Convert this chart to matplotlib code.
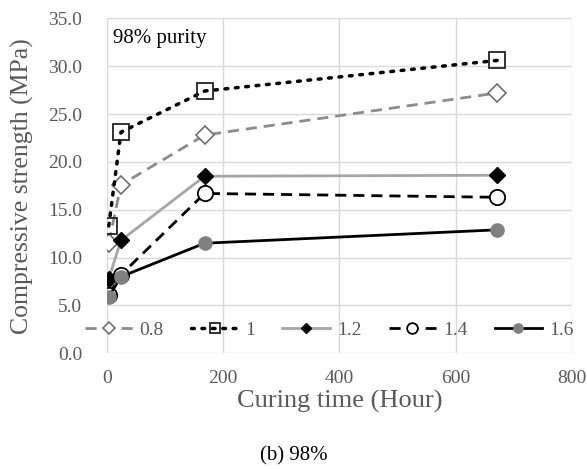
import matplotlib
matplotlib.use("Agg")
import matplotlib.pyplot as plt

hours = [3, 24, 168, 672]
labels = ["0.8", "1", "1.2", "1.4", "1.6"]
s08 = [11.5, 17.6, 22.8, 27.2]
s10 = [13.3, 23.1, 27.4, 30.6]
s12 = [7.8, 11.8, 18.5, 18.6]
s14 = [6.1, 8.2, 16.7, 16.3]
s16 = [5.9, 8.0, 11.5, 12.9]
xticks = [0, 200, 400, 600, 800]
yticks = [0, 5, 10, 15, 20, 25, 30, 35]

plt.rcParams['font.family'] = ['Liberation Serif', 'DejaVu Serif']

fig = plt.figure(figsize=(5.87, 4.69), dpi=100)
ax = fig.add_axes([0.1823, 0.2467, 0.7917, 0.7143])

gray_txt = '#595959'
ax.plot(hours, s08, color='#8c8c8c', ls=(0, (4, 2.5)), lw=2, marker='D', ms=9,
        mfc='white', mec='#707070', mew=1.2, label=labels[0], zorder=3)
ax.plot(hours, s10, color='black', ls=(0, (0.8, 2.2)), lw=2.5, dash_capstyle='round', marker='s', ms=11,
        mfc='none', mec='#222222', mew=1.3, label=labels[1], zorder=4)
ax.plot(hours, s12, color='#a6a6a6', ls='-', lw=2, marker='D', ms=8,
        mfc='black', mec='black', label=labels[2], zorder=3)
ax.plot(hours, s14, color='black', ls=(0, (4, 2.5)), lw=2, marker='o', ms=11,
        mfc='white', mec='black', mew=1.3, label=labels[3], zorder=3)
ax.plot(hours, s16, color='black', ls='-', lw=2, marker='o', ms=9.5,
        mfc='#808080', mec='#808080', label=labels[4], zorder=3)

ax.set_xlim(0, 800)
ax.set_ylim(0, 35)
ax.set_xticks(xticks)
ax.set_yticks(yticks)
ax.set_yticklabels([f"{v:.1f}" for v in yticks])
for sp in ax.spines.values():
    sp.set_visible(False)
ax.grid(True, color='#d9d9d9', lw=1)
ax.set_axisbelow(True)
ax.tick_params(length=0, labelsize=14, labelcolor=gray_txt)
ax.tick_params(axis='y', pad=18)
ax.tick_params(axis='x', pad=12)
ax.set_xlabel("Curing time (Hour)", fontsize=19, color=gray_txt, labelpad=2)
ax.set_ylabel("Compressive strength (MPa)", fontsize=18.5, color=gray_txt, labelpad=10)

ax.text(0.012, 0.94, "98% purity", transform=ax.transAxes, fontsize=15,
        color='black', ha='left', va='center')

leg = ax.legend(loc='center', bbox_to_anchor=(0.478, 2.4 / 35), ncol=5, frameon=False,
                fontsize=14, handlelength=2.45, columnspacing=1.4, handletextpad=0.35,
                borderaxespad=0, markerscale=0.7)
for t in leg.get_texts():
    t.set_color(gray_txt)

fig.text(0.5, 0.028, "(b) 98%", ha='center', va='center', fontsize=15, color='black')

fig.savefig("out.png", dpi=100)
